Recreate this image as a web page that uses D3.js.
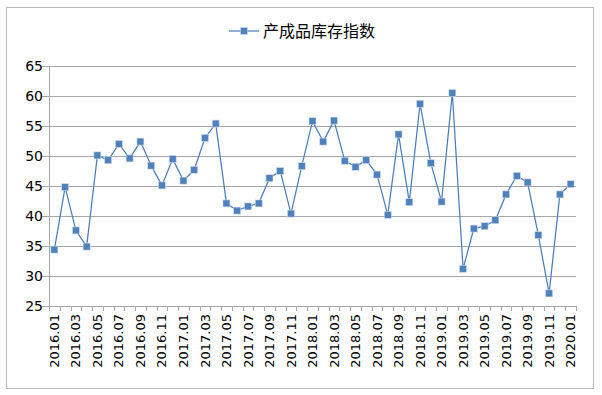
<!DOCTYPE html>
<html>
<head>
<meta charset="utf-8">
<script src="https://cdn.jsdelivr.net/npm/d3@7"></script>
<style>
  body { margin: 0; background: #fff; }
  svg { display: block; }
</style>
</head>
<body>
<div id="chart"></div>
<script>
// 产成品库存指数, monthly 2016.01 - 2020.01
const seriesName = '产成品库存指数'
const months = []
for (let y = 2016; y <= 2020; y++) {
  for (let m = 1; m <= 12; m++) {
    if (y === 2020 && m > 1) break
    months.push(y + '.' + String(m).padStart(2, '0'))
  }
}
const values = [
  34.4, 44.8, 37.6, 34.9, 50.1, 49.3, 52.0, 49.6, 52.4, 48.4, 45.1, 49.5,
  45.9, 47.7, 53.0, 55.4, 42.1, 40.9, 41.6, 42.1, 46.3, 47.5, 40.4, 48.3,
  55.8, 52.4, 55.9, 49.2, 48.2, 49.3, 46.9, 40.2, 53.6, 42.3, 58.7, 48.8,
  42.4, 60.5, 31.2, 37.9, 38.3, 39.3, 43.6, 46.7, 45.6, 36.8, 27.1, 43.6,
  45.3
]
const yTicks = [25, 30, 35, 40, 45, 50, 55, 60, 65]

const width = 602, height = 395
const margin = { top: 66, right: 26, bottom: 89, left: 49 }

const svg = d3.select('#chart').append('svg')
  .attr('width', width)
  .attr('height', height)

// outer chart border
svg.append('rect')
  .attr('x', 6.5).attr('y', 7.5)
  .attr('width', 587).attr('height', 381)
  .attr('fill', '#fff')
  .attr('stroke', '#b9b9b9')
  .attr('stroke-width', 1)

const x = d3.scaleBand()
  .domain(months)
  .range([margin.left, width - margin.right])

const y = d3.scaleLinear()
  .domain([25, 65])
  .range([height - margin.bottom, margin.top])

// gridlines
svg.append('g')
  .selectAll('line')
  .data(yTicks)
  .join('line')
  .attr('x1', margin.left - 7)
  .attr('x2', width - margin.right)
  .attr('y1', d => Math.round(y(d)) + 0.5)
  .attr('y2', d => Math.round(y(d)) + 0.5)
  .attr('stroke', '#a6a6a6')

// y axis line
svg.append('line')
  .attr('x1', margin.left + 0.5).attr('x2', margin.left + 0.5)
  .attr('y1', margin.top).attr('y2', height - margin.bottom)
  .attr('stroke', '#a6a6a6')

// y labels
svg.append('g')
  .selectAll('text')
  .data(yTicks)
  .join('text')
  .attr('x', 43)
  .attr('y', d => y(d))
  .attr('dy', '0.35em')
  .attr('text-anchor', 'end')
  .style('font-family', 'DejaVu Sans')
  .style('font-size', '14px')
  .text(d => d)

// x tick marks at category boundaries
const boundaries = months.map(m => x(m)).concat([x(months[months.length - 1]) + x.bandwidth()])
svg.append('g')
  .selectAll('line')
  .data(boundaries)
  .join('line')
  .attr('x1', d => Math.round(d) + 0.5)
  .attr('x2', d => Math.round(d) + 0.5)
  .attr('y1', height - margin.bottom)
  .attr('y2', height - margin.bottom + 5)
  .attr('stroke', '#a6a6a6')

// x labels, every other month
const labelY = height - margin.bottom + 8
svg.append('g')
  .selectAll('text')
  .data(months.filter((m, i) => i % 2 === 0))
  .join('text')
  .attr('transform', d => `translate(${x(d) + x.bandwidth() / 2},${labelY}) rotate(-90)`)
  .attr('dy', '0.35em')
  .attr('text-anchor', 'end')
  .style('font-family', 'DejaVu Sans')
  .style('font-size', '13px')
  .text(d => d)

// line
const line = d3.line()
  .x((d, i) => x(months[i]) + x.bandwidth() / 2)
  .y(d => y(d))

svg.append('path')
  .datum(values)
  .attr('d', line)
  .attr('fill', 'none')
  .attr('stroke', '#4a7ebb')
  .attr('stroke-width', 1.25)

svg.append('g')
  .selectAll('rect')
  .data(values)
  .join('rect')
  .attr('x', (d, i) => x(months[i]) + x.bandwidth() / 2 - 3.5)
  .attr('y', d => y(d) - 3.5)
  .attr('width', 7)
  .attr('height', 7)
  .attr('fill', '#4f81bd')
  .attr('stroke', '#d0dcec')
  .attr('stroke-width', 0.6)

// legend
const legend = svg.append('g').attr('transform', 'translate(229,31)')
legend.append('line')
  .attr('x1', 0).attr('x2', 30)
  .attr('y1', 0).attr('y2', 0)
  .attr('stroke', '#4a7ebb')
  .attr('stroke-width', 1.25)
legend.append('rect')
  .attr('x', 11.5).attr('y', -3.5)
  .attr('width', 7).attr('height', 7)
  .attr('fill', '#4f81bd')
  .attr('stroke', '#d0dcec')
  .attr('stroke-width', 0.6)
legend.append('text')
  .attr('x', 34)
  .attr('y', 0)
  .attr('dy', '0.35em')
  .style('font-family', 'Noto Sans CJK SC')
  .style('font-size', '16px')
  .text(seriesName)
</script>
</body>
</html>
